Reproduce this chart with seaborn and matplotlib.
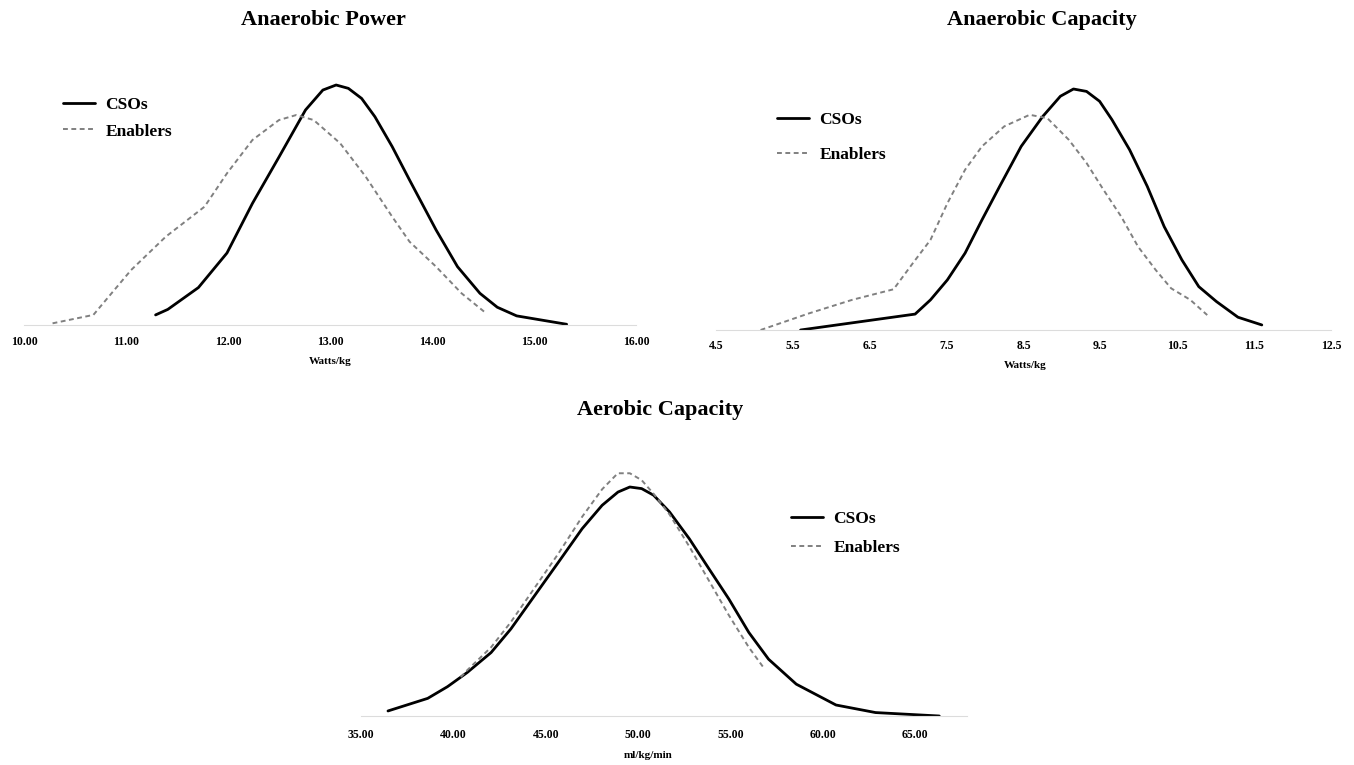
import matplotlib
matplotlib.use('Agg')
import matplotlib.pyplot as plt
import seaborn as sns

## Values (heights are relative, peak of CSOs = 1).
# Anaerobic Power (Watts/kg)
power_cso_x = [11.29, 11.41, 11.71, 11.99, 12.24, 12.50, 12.76, 12.93, 13.06, 13.18,
               13.31, 13.44, 13.61, 13.78, 14.04, 14.25, 14.47, 14.64, 14.83, 15.32]
power_cso_y = [0.042, 0.065, 0.156, 0.300, 0.507, 0.700, 0.896, 0.979, 1.000, 0.986,
               0.944, 0.868, 0.743, 0.604, 0.396, 0.243, 0.132, 0.074, 0.038, 0.003]
power_enb_x = [10.28, 10.68, 11.05, 11.39, 11.77, 11.99, 12.24, 12.50, 12.67, 12.84,
               13.10, 13.35, 13.61, 13.78, 14.04, 14.29, 14.51]
power_enb_y = [0.007, 0.042, 0.229, 0.368, 0.493, 0.632, 0.771, 0.854, 0.875, 0.854,
               0.757, 0.618, 0.451, 0.347, 0.243, 0.132, 0.056]

# Anaerobic Capacity (Watts/kg)
cap_cso_x = [5.60, 7.09, 7.29, 7.51, 7.74, 7.96, 8.19, 8.47, 8.75, 8.98, 9.15,
             9.32, 9.49, 9.65, 9.88, 10.11, 10.33, 10.56, 10.78, 11.01, 11.29, 11.60]
cap_cso_y = [0.000, 0.066, 0.125, 0.208, 0.319, 0.457, 0.596, 0.762, 0.886, 0.970, 1.000,
             0.990, 0.949, 0.873, 0.748, 0.596, 0.429, 0.291, 0.180, 0.118, 0.053, 0.021]
cap_enb_x = [5.08, 5.71, 6.27, 6.81, 7.06, 7.29, 7.51, 7.74, 7.96, 8.25, 8.58,
             8.81, 9.09, 9.32, 9.54, 9.77, 9.99, 10.22, 10.42, 10.67, 10.89]
cap_enb_y = [0.000, 0.069, 0.125, 0.169, 0.277, 0.374, 0.526, 0.665, 0.762, 0.845, 0.893,
             0.879, 0.789, 0.693, 0.582, 0.471, 0.346, 0.249, 0.173, 0.125, 0.062]

# Aerobic Capacity (ml/kg/min)
aer_cso_x = [36.46, 38.61, 39.68, 40.75, 42.04, 43.11, 44.40, 45.69, 46.97, 48.05, 48.91, 49.55,
             50.19, 50.84, 51.70, 52.77, 53.84, 54.91, 55.99, 57.06, 58.56, 60.71, 62.85, 66.30]
aer_cso_y = [0.022, 0.077, 0.128, 0.190, 0.277, 0.380, 0.526, 0.672, 0.818, 0.920, 0.978, 1.000,
             0.993, 0.964, 0.891, 0.774, 0.642, 0.511, 0.365, 0.248, 0.139, 0.048, 0.015, 0.000]
aer_enb_x = [40.40, 40.75, 42.04, 43.11, 44.40, 45.69, 46.97, 48.05, 48.90, 49.55,
             50.19, 50.84, 51.70, 52.77, 53.84, 54.91, 55.99, 56.80]
aer_enb_y = [0.170, 0.200, 0.300, 0.410, 0.560, 0.710, 0.870, 0.990, 1.060, 1.060,
             1.030, 0.970, 0.880, 0.740, 0.590, 0.440, 0.300, 0.210]

power_ticks = [10, 11, 12, 13, 14, 15, 16]
power_labels = ['10.00', '11.00', '12.00', '13.00', '14.00', '15.00', '16.00']
cap_ticks = [4.5, 5.5, 6.5, 7.5, 8.5, 9.5, 10.5, 11.5, 12.5]
cap_labels = ['4.5', '5.5', '6.5', '7.5', '8.5', '9.5', '10.5', '11.5', '12.5']
aer_ticks = [35, 40, 45, 50, 55, 60, 65]
aer_labels = ['35.00', '40.00', '45.00', '50.00', '55.00', '60.00', '65.00']

sns.set_style('white')
plt.rcParams['font.family'] = ['Liberation Serif', 'DejaVu Serif']
plt.rcParams['font.weight'] = 'bold'
plt.rcParams['text.color'] = 'black'
plt.rcParams['xtick.color'] = 'black'

W, H = 1354, 765
fig = plt.figure(figsize=(W / 100, H / 100), dpi=100)


def px_axes(left, right, base, unit_h, ymax=1.1):
    return fig.add_axes([left / W, (H - base) / H, (right - left) / W, ymax * unit_h / H])


def draw(ax, cx, cy, ex, ey, xlim, ticks, labels, pad):
    sns.lineplot(x=cx, y=cy, ax=ax, color='black', lw=2.0, label='CSOs')
    sns.lineplot(x=ex, y=ey, ax=ax, color='#808080', lw=1.4, ls=(0, (2.5, 1.8)), label='Enablers')
    ax.set_xlim(*xlim)
    ax.set_ylim(0, 1.1)
    ax.set_xticks(ticks)
    ax.set_xticklabels(labels, fontsize=8.5, fontweight='bold', color='black')
    ax.tick_params(axis='x', length=0, pad=pad)
    ax.set_yticks([])
    ax.set_xlabel('')
    ax.set_ylabel('')
    for s in ['top', 'right', 'left']:
        ax.spines[s].set_visible(False)
    ax.spines['bottom'].set_color('#dcdcdc')
    ax.spines['bottom'].set_linewidth(0.8)
    ax.patch.set_alpha(0)


ax1 = px_axes(24, 636, 325, 240)
draw(ax1, power_cso_x, power_cso_y, power_enb_x, power_enb_y, (10, 16), power_ticks, power_labels, 8)
ax2 = px_axes(716, 1331, 330, 241)
draw(ax2, cap_cso_x, cap_cso_y, cap_enb_x, cap_enb_y, (4.5, 12.5), cap_ticks, cap_labels, 7)
ax3 = px_axes(361, 967, 716, 229)
draw(ax3, aer_cso_x, aer_cso_y, aer_enb_x, aer_enb_y, (35, 67.8), aer_ticks, aer_labels, 9)

# legends, anchored at handle start / middle of the two rows
for ax, lx, ly, sp in [(ax1, 63, 118, 0.62), (ax2, 777, 137.5, 1.05), (ax3, 791, 533.5, 0.72)]:
    leg = ax.legend(loc='center left', bbox_to_anchor=(lx / W, 1 - ly / H), bbox_transform=fig.transFigure,
                    frameon=False, borderpad=0, borderaxespad=0, handlelength=1.85, handletextpad=0.6,
                    labelspacing=sp, prop={'family': 'Liberation Serif', 'weight': 'bold', 'size': 12.5})
    for t in leg.get_texts():
        t.set_color('black')

# titles and axis labels
fig.text(323 / W, 1 - 20 / H, 'Anaerobic Power', ha='center', va='center', fontsize=16, fontweight='bold')
fig.text(1042 / W, 1 - 20 / H, 'Anaerobic Capacity', ha='center', va='center', fontsize=16, fontweight='bold')
fig.text(660 / W, 1 - 410 / H, 'Aerobic Capacity', ha='center', va='center', fontsize=16, fontweight='bold')
fig.text(330 / W, 1 - 361 / H, 'Watts/kg', ha='center', va='center', fontsize=8, fontweight='bold')
fig.text(1025 / W, 1 - 365 / H, 'Watts/kg', ha='center', va='center', fontsize=8, fontweight='bold')
fig.text(648 / W, 1 - 755 / H, 'ml/kg/min', ha='center', va='center', fontsize=8, fontweight='bold')

fig.savefig('out.png', dpi=100, facecolor='white')
